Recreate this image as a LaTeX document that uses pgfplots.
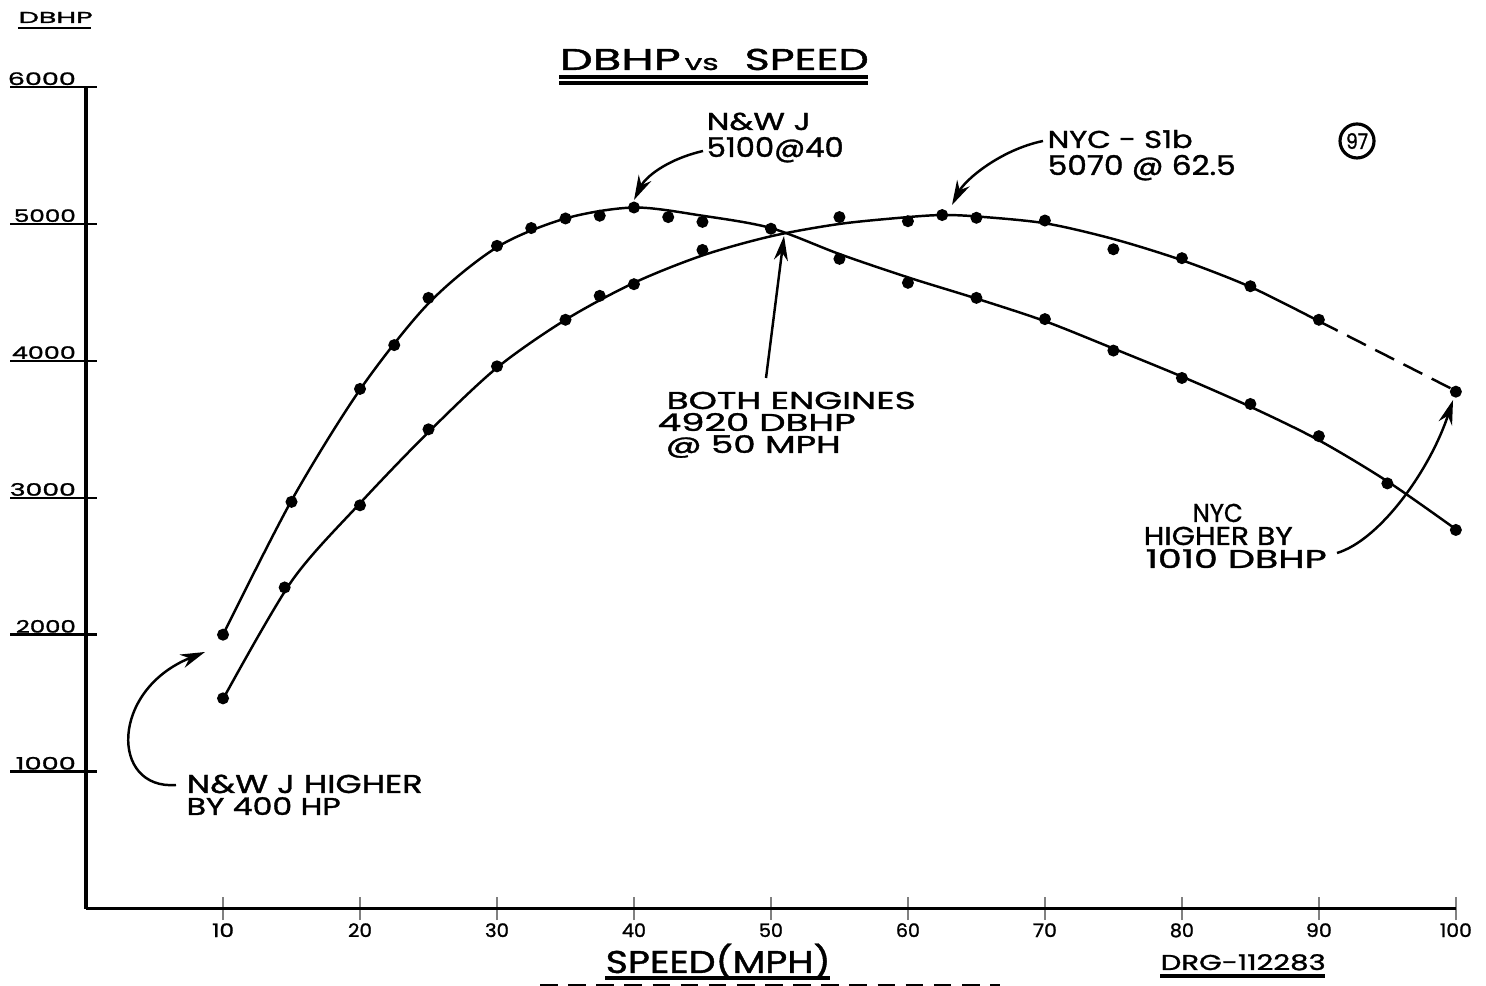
\documentclass[border=0pt]{standalone}
\usepackage{pgfplots}
\pgfplotsset{compat=1.18}
\usepackage{graphicx}
\usepackage{fontspec}
\setmainfont{Poppins}[FakeBold=1.2]
\usetikzlibrary{arrows.meta}

% 1 px of the reference scan = 0.01cm
\newlength\pxu
\setlength\pxu{0.01cm}
% hand lettering: stretch text to a given width and cap height (in px)
\newcommand{\fit}[3]{\resizebox{#1\pxu}{#2\pxu}{\raisebox{0pt}[\fontcharht\font`H][0pt]{#3}}}

\pgfplotstableread{
x y
10 2000
15 2980
20 3790
25 4420
30 4830
35 5040
40 5120
45 5060
50 4970
55 4780
60 4610
65 4455
70 4290
75 4090
80 3885
85 3665
90 3420
95 3120
100 2770
}\nwline

\pgfplotstableread{
x y
10 1530
15 2390
20 2960
25 3480
30 3950
35 4300
40 4570
45 4770
50 4910
55 5000
60 5050
62.5 5065
65 5055
70 5005
75 4890
80 4735
85 4540
90 4290
}\nycline

\pgfplotstableread{
x y
10 2000
15 2970
20 3795
22.5 4115
25 4460
30 4840
32.5 4970
35 5040
37.5 5060
40 5120
42.5 5050
45 5015
50 4965
55 4745
60 4570
65 4460
70 4305
75 4075
80 3875
85 3685
90 3450
95 3105
100 2765
}\nwpts

\pgfplotstableread{
x y
10 1535
14.5 2345
20 2945
25 3500
30 3960
35 4300
37.5 4475
40 4560
45 4810
55 5050
60 5020
62.5 5065
65 5045
70 5025
75 4815
80 4750
85 4545
90 4300
100 3775
}\nycpts

\begin{document}
\begin{tikzpicture}
\begin{axis}[
  scale only axis,
  width=13.69cm, height=8.21cm,
  xmin=0, xmax=100, ymin=0, ymax=6000,
  axis lines=left,
  axis line style={-, line width=0.9pt},
  clip=false,
  tick align=center,
  major tick length=0.23cm,
  xtick={10,20,...,100},
  xticklabels={\fit{22}{13}{10},\fit{24}{13}{20},\fit{24}{13}{30},\fit{24}{13}{40},\fit{24}{13}{50},\fit{24}{13}{60},\fit{24}{13}{70},\fit{24}{13}{80},\fit{26}{13}{90},\fit{32}{13}{100}},
  xtick style={line width=0.6pt},
  xticklabel style={anchor=base, inner sep=0pt, yshift=-0.17cm},
  ytick={1000,2000,...,6000},
  yticklabels={\fit{60}{12}{1000},\fit{60}{12}{2000},\fit{66}{12}{3000},\fit{64}{12}{4000},\fit{62}{12}{5000},\fit{68}{12}{6000}},
  ytick style={draw=none},
  yticklabel style={anchor=base east, inner sep=0pt, xshift=0.02cm, yshift=0.02cm},
]
\pgfplotsinvokeforeach{1000,2000,3000,4000,5000,6000}{
  \draw[line width=0.7pt] (axis cs:-5.55,#1) -- (axis cs:0.8,#1);
}
\addplot[smooth, line width=0.7pt] table {\nwline};
\addplot[smooth, line width=0.7pt] table {\nycline};
\addplot[line width=0.7pt, dash pattern=on 6pt off 3pt] coordinates {(90,4290) (100,3780)};
\addplot[only marks, mark=*, mark size=1.5pt] table {\nwpts};
\addplot[only marks, mark=*, mark size=1.5pt] table {\nycpts};
\end{axis}

\begin{scope}[shift={(-0.86cm,9.08cm)},x=0.01cm,y=-0.01cm,
  every node/.style={inner sep=0pt}]
% y axis title
\node[anchor=base west] at (18,23) {\fit{74}{11}{DBHP}};
\draw[line width=0.6pt] (18,28) -- (91,28);
% main title
\node[anchor=base west] at (559,70) {\fit{121}{21}{DBHP}};
\node[anchor=base west] at (684,70) {\resizebox{34\pxu}{12\pxu}{vs}};
\node[anchor=base west] at (744,70) {\fit{124}{21}{SPEED}};
\draw[line width=1.3pt] (559,77) -- (868,77);
\draw[line width=0.9pt] (559,83) -- (868,83);
% circled sheet number
\draw[line width=0.9pt] (1357,141) circle (17);
\node[anchor=base] at (1357,149) {\fit{22}{15}{97}};
% N&W peak
\node[anchor=base west] at (706,130) {\fit{104}{17}{N\&W J}};
\node[anchor=base west] at (706,157) {\fit{137}{19}{5100@40}};
\draw[line width=0.7pt, -{Stealth[length=7pt,width=4pt]}] (703,151) .. controls (665,160) and (645,178) .. (634,200);
% NYC peak
\node[anchor=base west] at (1047,148) {\fit{145}{17}{NYC - S1b}};
\node[anchor=base west] at (1047,175) {\fit{188}{19}{5070 @ 62.5}};
\draw[line width=0.7pt, -{Stealth[length=7pt,width=4pt]}] (1043,141) .. controls (1000,150) and (965,180) .. (952,205);
% crossing point
\node[anchor=base west] at (666,409) {\fit{249}{17}{BOTH ENGINES}};
\node[anchor=base west] at (657,431) {\fit{198}{17}{4920 DBHP}};
\node[anchor=base west] at (665,453) {\fit{175}{17}{@ 50 MPH}};
\draw[line width=0.7pt, -{Stealth[length=7pt,width=4pt]}] (766,378) -- (784,236);
% low speed note
\node[anchor=base west] at (186,793) {\fit{236}{18}{N\&W J HIGHER}};
\node[anchor=base west] at (186,815) {\fit{154}{17}{BY 400 HP}};
\draw[line width=0.7pt, -{Stealth[length=7pt,width=4pt]}] (176,785) .. controls (110,790) and (110,690) .. (205,652);
% high speed note
\node[anchor=base west] at (1192,522) {\fit{50}{18}{NYC}};
\node[anchor=base west] at (1143,545) {\fit{149}{18}{HIGHER BY}};
\node[anchor=base west] at (1145,568) {\fit{181}{18}{1010 DBHP}};
\draw[line width=0.7pt, -{Stealth[length=7pt,width=4pt]}] (1337,553) .. controls (1380,540) and (1430,470) .. (1453,400);
% x axis title and drawing number
\node[anchor=base west] at (605,973) {\fit{225}{22}{SPEED(MPH)}};
\draw[line width=1.1pt] (605,978) -- (830,978);
\draw[line width=0.7pt, dash pattern=on 5pt off 3pt] (540,985) -- (1000,985);
\node[anchor=base west] at (1160,970) {\fit{165}{15}{DRG-112283}};
\draw[line width=1.1pt] (1160,976) -- (1325,976);
% page = the scanned sheet
\pgfresetboundingbox
\path[use as bounding box] (0,0) rectangle (1486,986);
\end{scope}
\end{tikzpicture}
\end{document}
